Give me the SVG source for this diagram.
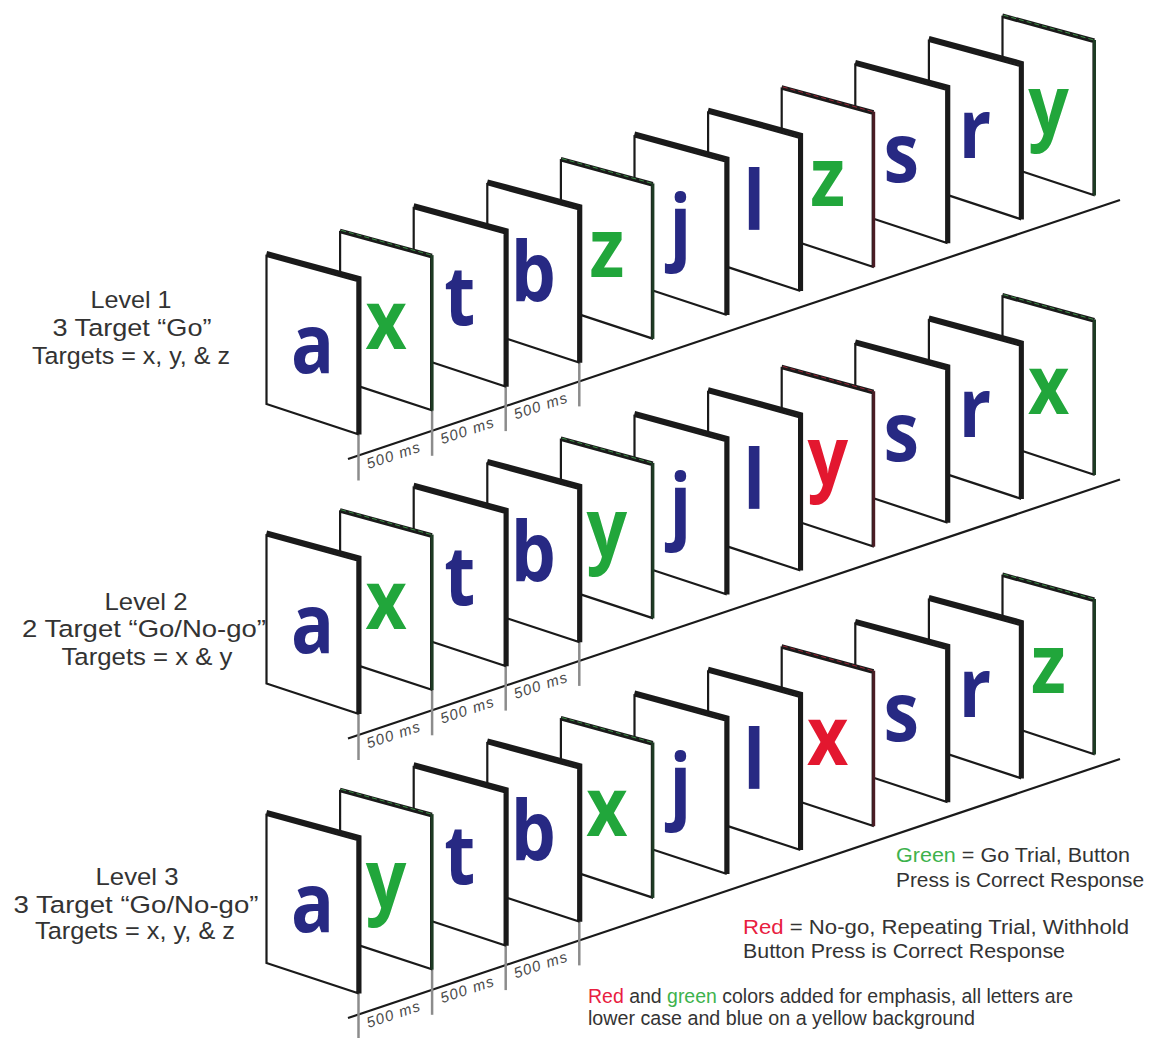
<svg xmlns="http://www.w3.org/2000/svg" xmlns:xlink="http://www.w3.org/1999/xlink" width="1153" height="1038" viewBox="0 0 1153 1038">
<style>
.face{fill:#fff;stroke:#1a1a1a;stroke-width:2.2;stroke-linejoin:miter}
.edge{fill:none;stroke:#1a1a1a;stroke-width:4.8;stroke-linejoin:miter}
.base{stroke:#1a1a1a;stroke-width:2.2;fill:none}
.tick{stroke:#8c8c8c;stroke-width:2.5}
.ms{font-family:"Liberation Sans",Arial,sans-serif;font-style:italic;font-size:15px;letter-spacing:1.2px;fill:#4a4a4a;text-anchor:middle}
.L{font-family:"Open Sans","Liberation Sans",sans-serif;font-weight:700;font-size:82px;text-anchor:middle}
.b{fill:#272983}.g{fill:#21a63b}.r{fill:#e3172f}
.lvl{font-family:"Liberation Sans",Arial,sans-serif;font-size:24.5px;fill:#333;text-anchor:middle}
.leg{font-family:"Liberation Sans",Arial,sans-serif;font-size:20.5px;fill:#333}
.lg{fill:#3db24c}.lr{fill:#e8203f}
</style>
<defs>
<g id="card-k">
<polygon class="face" points="0,0 91,25 91,178 0,148"/>
<path class="edge" d="M0,-2.6 L92.6,22.4 L92.6,178.5"/>
</g>
<g id="card-g">
<polygon class="face" points="0,0 91,25 91,178 0,148"/>
<path d="M0,-1.8 L92,23.2" stroke="#1b1b1b" stroke-width="3.4" fill="none"/>
<path d="M1,-1.8 L92,23.2" stroke="#3a8f45" stroke-width="1" stroke-dasharray="5 3" fill="none"/>
<path d="M92,23 L92,178.5" stroke="#1e3b24" stroke-width="3" fill="none"/>
</g>
<g id="card-r">
<polygon class="face" points="0,0 91,25 91,178 0,148"/>
<path d="M0,-1.8 L92,23.2" stroke="#1b1b1b" stroke-width="3.4" fill="none"/>
<path d="M1,-1.8 L92,23.2" stroke="#9a2535" stroke-width="1" stroke-dasharray="5 3" fill="none"/>
<path d="M92,23 L92,178.5" stroke="#4a1c24" stroke-width="3" fill="none"/>
</g>
</defs>
<rect width="1153" height="1038" fill="#fff"/>

<g id="connectors">
<line class="base" x1="348" y1="459" x2="1120" y2="200"/>
<line class="tick" x1="358.5" y1="434" x2="358.5" y2="480.5"/>
<line class="tick" x1="432.1" y1="410.1" x2="432.1" y2="455.8"/>
<line class="tick" x1="505.7" y1="386.2" x2="505.7" y2="431.1"/>
<line class="tick" x1="579.3" y1="362.3" x2="579.3" y2="406.4"/>
<line class="base" x1="348" y1="738.5" x2="1120" y2="479.5"/>
<line class="tick" x1="358.5" y1="713.5" x2="358.5" y2="760"/>
<line class="tick" x1="432.1" y1="689.6" x2="432.1" y2="735.3"/>
<line class="tick" x1="505.7" y1="665.7" x2="505.7" y2="710.6"/>
<line class="tick" x1="579.3" y1="641.8" x2="579.3" y2="685.9"/>
<line class="base" x1="348" y1="1018" x2="1120" y2="759"/>
<line class="tick" x1="358.5" y1="993" x2="358.5" y2="1038"/>
<line class="tick" x1="432.1" y1="969.1" x2="432.1" y2="1014.8"/>
<line class="tick" x1="505.7" y1="945.2" x2="505.7" y2="990.1"/>
<line class="tick" x1="579.3" y1="921.3" x2="579.3" y2="965.4"/>
</g>

<g id="timing-labels">
<text class="ms" transform="translate(395.3,460) rotate(-18.5)">500 ms</text>
<text class="ms" transform="translate(468.9,435.3) rotate(-18.5)">500 ms</text>
<text class="ms" transform="translate(542.5,410.6) rotate(-18.5)">500 ms</text>
<text class="ms" transform="translate(395.3,739.5) rotate(-18.5)">500 ms</text>
<text class="ms" transform="translate(468.9,714.8) rotate(-18.5)">500 ms</text>
<text class="ms" transform="translate(542.5,690.1) rotate(-18.5)">500 ms</text>
<text class="ms" transform="translate(395.3,1019) rotate(-18.5)">500 ms</text>
<text class="ms" transform="translate(468.9,994.3) rotate(-18.5)">500 ms</text>
<text class="ms" transform="translate(542.5,969.6) rotate(-18.5)">500 ms</text>
</g>

<g id="level-labels">
<g id="level1">
<text class="lvl" x="131" y="308" textLength="81" lengthAdjust="spacingAndGlyphs">Level 1</text>
<text class="lvl" x="132" y="335.5" textLength="159" lengthAdjust="spacingAndGlyphs">3 Target “Go”</text>
<text class="lvl" x="131" y="363.5" textLength="198" lengthAdjust="spacingAndGlyphs">Targets = x, y, &amp; z</text>
</g>
<g id="level2">
<text class="lvl" x="146" y="610" textLength="83" lengthAdjust="spacingAndGlyphs">Level 2</text>
<text class="lvl" x="144" y="637" textLength="244" lengthAdjust="spacingAndGlyphs">2 Target “Go/No-go”</text>
<text class="lvl" x="147" y="665" textLength="171" lengthAdjust="spacingAndGlyphs">Targets = x &amp; y</text>
</g>
<g id="level3">
<text class="lvl" x="137" y="885" textLength="83" lengthAdjust="spacingAndGlyphs">Level 3</text>
<text class="lvl" x="136" y="913" textLength="245" lengthAdjust="spacingAndGlyphs">3 Target “Go/No-go”</text>
<text class="lvl" x="135" y="939" textLength="200" lengthAdjust="spacingAndGlyphs">Targets = x, y, &amp; z</text>
</g>
</g>

<g id="row1">
<g id="r1c11" transform="translate(1002.5,17)"><use href="#card-g"/><text class="L g" transform="translate(46,117) scale(.87 1)">y</text></g>
<g id="r1c10" transform="translate(928.9,40.9)"><use href="#card-k"/><text class="L b" transform="translate(46,117) scale(.87 1)">r</text></g>
<g id="r1c9" transform="translate(855.3,64.8)"><use href="#card-k"/><text class="L b" transform="translate(46,117) scale(.87 1)">s</text></g>
<g id="r1c8" transform="translate(781.7,88.7)"><use href="#card-r"/><text class="L g" transform="translate(46,117) scale(.87 1)">z</text></g>
<g id="r1c7" transform="translate(708.1,112.6)"><use href="#card-k"/><text class="L b" transform="translate(46,117) scale(.87 1)">l</text></g>
<g id="r1c6" transform="translate(634.5,136.5)"><use href="#card-k"/><text class="L b" transform="translate(46,117) scale(.87 1)">j</text></g>
<g id="r1c5" transform="translate(560.9,160.4)"><use href="#card-g"/><text class="L g" transform="translate(46,117) scale(.87 1)">z</text></g>
<g id="r1c4" transform="translate(487.3,184.3)"><use href="#card-k"/><text class="L b" transform="translate(46,117) scale(.87 1)">b</text></g>
<g id="r1c3" transform="translate(413.7,208.2)"><use href="#card-k"/><text class="L b" transform="translate(46,117) scale(.87 1)">t</text></g>
<g id="r1c2" transform="translate(340.1,232.1)"><use href="#card-g"/><text class="L g" transform="translate(46,117) scale(.87 1)">x</text></g>
<g id="r1c1" transform="translate(266.5,256)"><use href="#card-k"/><text class="L b" transform="translate(46,117) scale(.87 1)">a</text></g>
</g>

<g id="row2">
<g id="r2c11" transform="translate(1002.5,296.5)"><use href="#card-g"/><text class="L g" transform="translate(46,117) scale(.87 1)">x</text></g>
<g id="r2c10" transform="translate(928.9,320.4)"><use href="#card-k"/><text class="L b" transform="translate(46,117) scale(.87 1)">r</text></g>
<g id="r2c9" transform="translate(855.3,344.3)"><use href="#card-k"/><text class="L b" transform="translate(46,117) scale(.87 1)">s</text></g>
<g id="r2c8" transform="translate(781.7,368.2)"><use href="#card-r"/><text class="L r" transform="translate(46,117) scale(.87 1)">y</text></g>
<g id="r2c7" transform="translate(708.1,392.1)"><use href="#card-k"/><text class="L b" transform="translate(46,117) scale(.87 1)">l</text></g>
<g id="r2c6" transform="translate(634.5,416)"><use href="#card-k"/><text class="L b" transform="translate(46,117) scale(.87 1)">j</text></g>
<g id="r2c5" transform="translate(560.9,439.9)"><use href="#card-g"/><text class="L g" transform="translate(46,117) scale(.87 1)">y</text></g>
<g id="r2c4" transform="translate(487.3,463.8)"><use href="#card-k"/><text class="L b" transform="translate(46,117) scale(.87 1)">b</text></g>
<g id="r2c3" transform="translate(413.7,487.7)"><use href="#card-k"/><text class="L b" transform="translate(46,117) scale(.87 1)">t</text></g>
<g id="r2c2" transform="translate(340.1,511.6)"><use href="#card-g"/><text class="L g" transform="translate(46,117) scale(.87 1)">x</text></g>
<g id="r2c1" transform="translate(266.5,535.5)"><use href="#card-k"/><text class="L b" transform="translate(46,117) scale(.87 1)">a</text></g>
</g>

<g id="row3">
<g id="r3c11" transform="translate(1002.5,576)"><use href="#card-g"/><text class="L g" transform="translate(46,117) scale(.87 1)">z</text></g>
<g id="r3c10" transform="translate(928.9,599.9)"><use href="#card-k"/><text class="L b" transform="translate(46,117) scale(.87 1)">r</text></g>
<g id="r3c9" transform="translate(855.3,623.8)"><use href="#card-k"/><text class="L b" transform="translate(46,117) scale(.87 1)">s</text></g>
<g id="r3c8" transform="translate(781.7,647.7)"><use href="#card-r"/><text class="L r" transform="translate(46,117) scale(.87 1)">x</text></g>
<g id="r3c7" transform="translate(708.1,671.6)"><use href="#card-k"/><text class="L b" transform="translate(46,117) scale(.87 1)">l</text></g>
<g id="r3c6" transform="translate(634.5,695.5)"><use href="#card-k"/><text class="L b" transform="translate(46,117) scale(.87 1)">j</text></g>
<g id="r3c5" transform="translate(560.9,719.4)"><use href="#card-g"/><text class="L g" transform="translate(46,117) scale(.87 1)">x</text></g>
<g id="r3c4" transform="translate(487.3,743.3)"><use href="#card-k"/><text class="L b" transform="translate(46,117) scale(.87 1)">b</text></g>
<g id="r3c3" transform="translate(413.7,767.2)"><use href="#card-k"/><text class="L b" transform="translate(46,117) scale(.87 1)">t</text></g>
<g id="r3c2" transform="translate(340.1,791.1)"><use href="#card-g"/><text class="L g" transform="translate(46,117) scale(.87 1)">y</text></g>
<g id="r3c1" transform="translate(266.5,815)"><use href="#card-k"/><text class="L b" transform="translate(46,117) scale(.87 1)">a</text></g>
</g>

<g id="legend">
<text class="leg" x="896" y="862" textLength="234" lengthAdjust="spacingAndGlyphs"><tspan class="lg">Green</tspan> = Go Trial, Button</text>
<text class="leg" x="896" y="887" textLength="248" lengthAdjust="spacingAndGlyphs">Press is Correct Response</text>
<text class="leg" x="743" y="934" textLength="386" lengthAdjust="spacingAndGlyphs"><tspan class="lr">Red</tspan> = No-go, Repeating Trial,  Withhold</text>
<text class="leg" x="743" y="958" textLength="322" lengthAdjust="spacingAndGlyphs">Button Press is Correct Response</text>
<text class="leg" x="588" y="1003" textLength="485" lengthAdjust="spacingAndGlyphs"><tspan class="lr">Red</tspan> and <tspan class="lg">green</tspan> colors added for emphasis,  all letters are</text>
<text class="leg" x="588" y="1025" textLength="387" lengthAdjust="spacingAndGlyphs">lower case and blue on a yellow background</text>
</g>
</svg>
